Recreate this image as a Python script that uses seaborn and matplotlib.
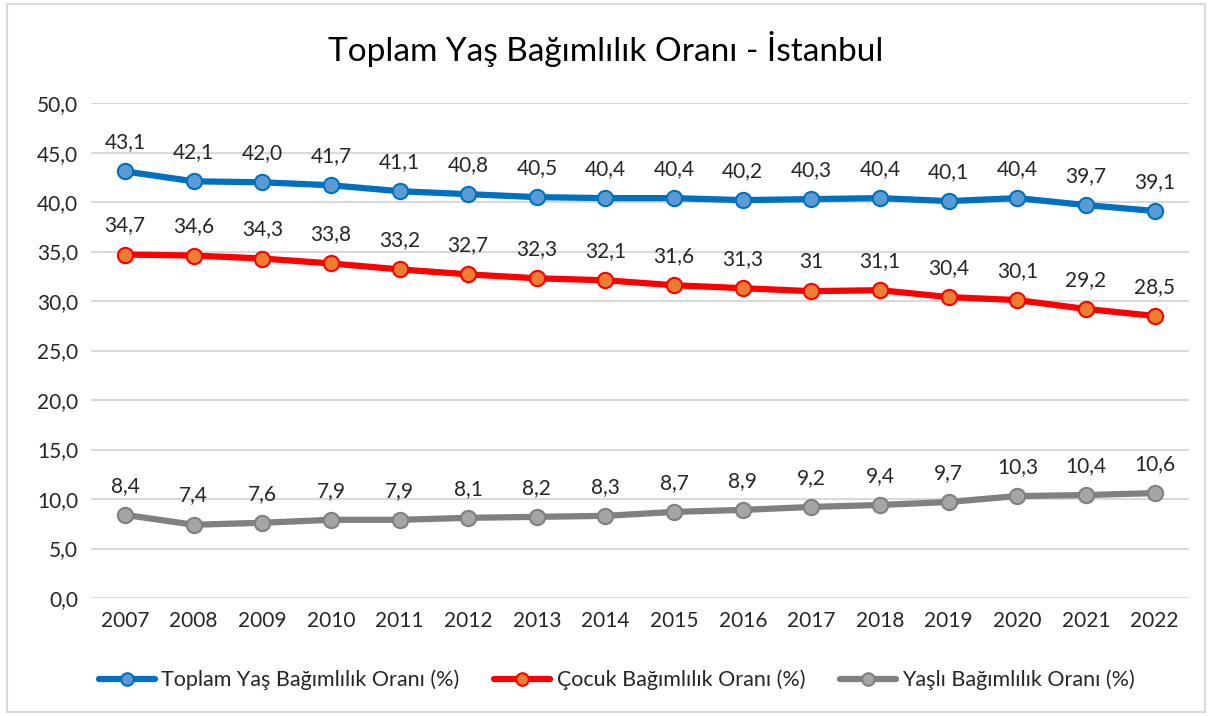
import numpy as np
import pandas as pd
import matplotlib.pyplot as plt
import seaborn as sns
from matplotlib.patches import Rectangle
from matplotlib.lines import Line2D

years = ["2007", "2008", "2009", "2010", "2011", "2012", "2013", "2014",
         "2015", "2016", "2017", "2018", "2019", "2020", "2021", "2022"]
toplam = [43.1, 42.1, 42.0, 41.7, 41.1, 40.8, 40.5, 40.4,
          40.4, 40.2, 40.3, 40.4, 40.1, 40.4, 39.7, 39.1]
cocuk = [34.7, 34.6, 34.3, 33.8, 33.2, 32.7, 32.3, 32.1,
         31.6, 31.3, 31, 31.1, 30.4, 30.1, 29.2, 28.5]
yasli = [8.4, 7.4, 7.6, 7.9, 7.9, 8.1, 8.2, 8.3,
         8.7, 8.9, 9.2, 9.4, 9.7, 10.3, 10.4, 10.6]

names = ["Toplam Yaş Bağımlılık Oranı (%)", "Çocuk Bağımlılık Oranı (%)",
         "Yaşlı Bağımlılık Oranı (%)"]

sns.set_style("white")
plt.rcParams['font.family'] = ['Lato', 'DejaVu Sans']

fig = plt.figure(figsize=(12.12, 7.16), dpi=100)
ax = fig.add_axes([0.0748, 0.1648, 0.9062, 0.6912])

# light frame around the chart
fig.patches.append(Rectangle((0.006, 0.006), 0.988, 0.988, transform=fig.transFigure,
                             fill=False, edgecolor="#D9D9D9", linewidth=1.5))

x = np.arange(len(years))
series = [
    (toplam, "#0070C0", "#5B9BD5", lambda v: f"{v:.1f}".replace(".", ",")),
    (cocuk, "#FF0000", "#ED7D31", lambda v: str(v).replace(".", ",")),
    (yasli, "#808080", "#A5A5A5", lambda v: f"{v:.1f}".replace(".", ",")),
]

handles = []
for (vals, lc, mc, fmt), name in zip(series, names):
    sns.lineplot(x=x, y=vals, ax=ax, color=lc, linewidth=4.5, marker="o",
                 markersize=11, markerfacecolor=mc, markeredgecolor=lc,
                 markeredgewidth=1.5, zorder=3)
    for xi, v in zip(x, vals):
        ax.annotate(fmt(v), (xi, v), xytext=(0, 21), textcoords="offset points",
                    ha="center", va="center", fontsize=15, color="#262626")
    handles.append(Line2D([0], [0], color=lc, linewidth=4.5, marker="o",
                          markersize=9, markerfacecolor=mc, markeredgecolor=lc,
                          markeredgewidth=1.5))

ax.set_xlim(-0.5, len(years) - 0.5)
ax.set_ylim(0, 50)
ax.set_yticks(np.arange(0, 51, 5))
ax.set_yticklabels([f"{t:.1f}".replace(".", ",") for t in np.arange(0, 51, 5)])
ax.set_xticks(x)
ax.set_xticklabels(years)
ax.tick_params(axis="both", labelsize=15, labelcolor="#262626", length=0, pad=9)
ax.grid(axis="y", color="#D9D9D9", linewidth=1.5)
ax.set_axisbelow(True)
for s in ax.spines.values():
    s.set_visible(False)

fig.text(0.5, 0.932, "Toplam Yaş Bağımlılık Oranı - İstanbul", ha="center", va="center",
         fontsize=24, color="#000000")

fig.legend(handles, names, loc="center", bbox_to_anchor=(0.509, 0.05), ncol=3,
           frameon=False, fontsize=15.5, handlelength=2.6, columnspacing=1.6,
           handletextpad=0.3, labelcolor="#262626")

fig.savefig("out.png", dpi=100)
